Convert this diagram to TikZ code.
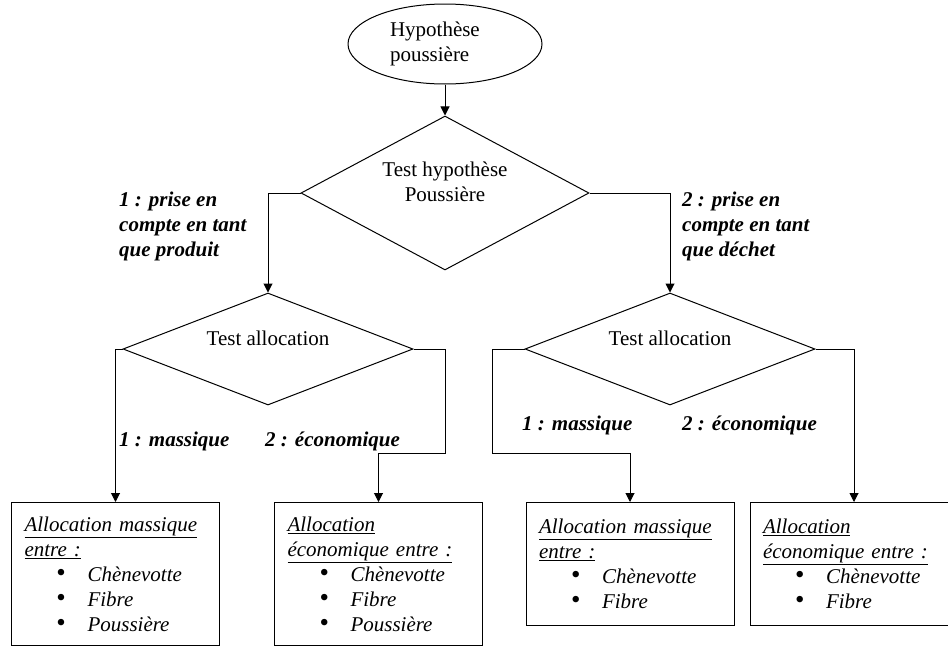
\documentclass[tikz,border=0pt]{standalone}
\usepackage{fontspec}
\setmainfont{Liberation Serif}
\usetikzlibrary{shapes.geometric,arrows.meta,positioning}

\newcommand{\taille}{\fontsize{21}{25}\selectfont}
\newcommand{\puce}[1]{\hspace*{32pt}\makebox[31pt][l]{\upshape\fontsize{27}{25}\selectfont\textbullet}#1}

\tikzset{
    % Forme de depart
    debut/.style={
        ellipse,
        draw,
        line width=1pt,
        minimum width=194pt,
        minimum height=80pt,
        text width=110pt,
        inner sep=0pt,
        align=left,
        font=\taille
    },
    test/.style={
        diamond,
        draw,
        line width=1pt,
        inner sep=0pt
    },
    test texte/.style={
        font=\taille,
        align=center,
        inner sep=0pt,
        yshift=11pt
    },
    boite/.style={
        rectangle,
        draw,
        line width=1pt,
        anchor=north,
        text width=182pt,
        inner xsep=13pt,
        inner ysep=0pt,
        align=left,
        font=\taille\itshape
    },
    choix/.style={
        anchor=west,
        inner sep=0pt,
        align=left,
        font=\taille\bfseries\itshape
    },
    fleche/.style={
        -{Triangle[length=9pt,width=9pt]},
        line width=1pt
    }
}

\begin{document}
\begin{tikzpicture}[x=1pt, y=-1pt]
        \useasboundingbox (0,0) rectangle (948,648);
        % Noeuds
        \node[debut] (hypo) at (445,44) {Hypothèse\\poussière};
        \node[test, minimum width=288pt, minimum height=154pt,
            label={[test texte]center:Test hypothèse\\Poussière}] (testpous) at (445,193) {};
        \node[test, minimum width=290pt, minimum height=112pt,
            label={[test texte]center:Test allocation}] (allocA) at (268,349) {};
        \node[test, minimum width=290pt, minimum height=112pt,
            label={[test texte]center:Test allocation}] (allocB) at (670,349) {};

        % Resultats
        \node[boite, minimum height=143pt] (masseA) at (115.5,502) {\underline{Allocation massique}\\\underline{entre :}\\\puce{Chènevotte}\\\puce{Fibre}\\\puce{Poussière}};
        \node[boite, minimum height=143pt] (ecoA) at (378.5,502) {\underline{Allocation}\\\underline{économique entre :}\\\puce{Chènevotte}\\\puce{Fibre}\\\puce{Poussière}};
        \node[boite, minimum height=123pt] (masseB) at (630,502) {\underline{Allocation massique}\\\underline{entre :}\\\puce{Chènevotte}\\\puce{Fibre}};
        \node[boite, minimum height=123pt] (ecoB) at (854,502) {\underline{Allocation}\\\underline{économique entre :}\\\puce{Chènevotte}\\\puce{Fibre}};

        % Choix
        \node[choix] (produit) at (119,226) {1 : prise en\\compte en tant\\que produit};
        \node[choix] (dechet) at (682,226) {2 : prise en\\compte en tant\\que déchet};
        \node[choix] (massA) at (119,441) {1 : massique};
        \node[choix] (econA) at (265,441) {2 : économique};
        \node[choix] (massB) at (522,425) {1 : massique};
        \node[choix] (econB) at (682,425) {2 : économique};

        % Fleches
        \draw[fleche] (hypo) -- (testpous);
        \draw[fleche] (testpous.west) -| (allocA.north);
        \draw[fleche] (testpous.east) -| (allocB.north);
        \draw[fleche] (allocA.west) -| (masseA.north);
        \draw[fleche] (allocA.east) -- ++(32,0) -- ++(0,104) -| (ecoA.north);
        \draw[fleche] (allocB.west) -- ++(-32,0) -- ++(0,104) -| (masseB.north);
        \draw[fleche] (allocB.east) -| (ecoB.north);
    \end{tikzpicture}
\end{document}
